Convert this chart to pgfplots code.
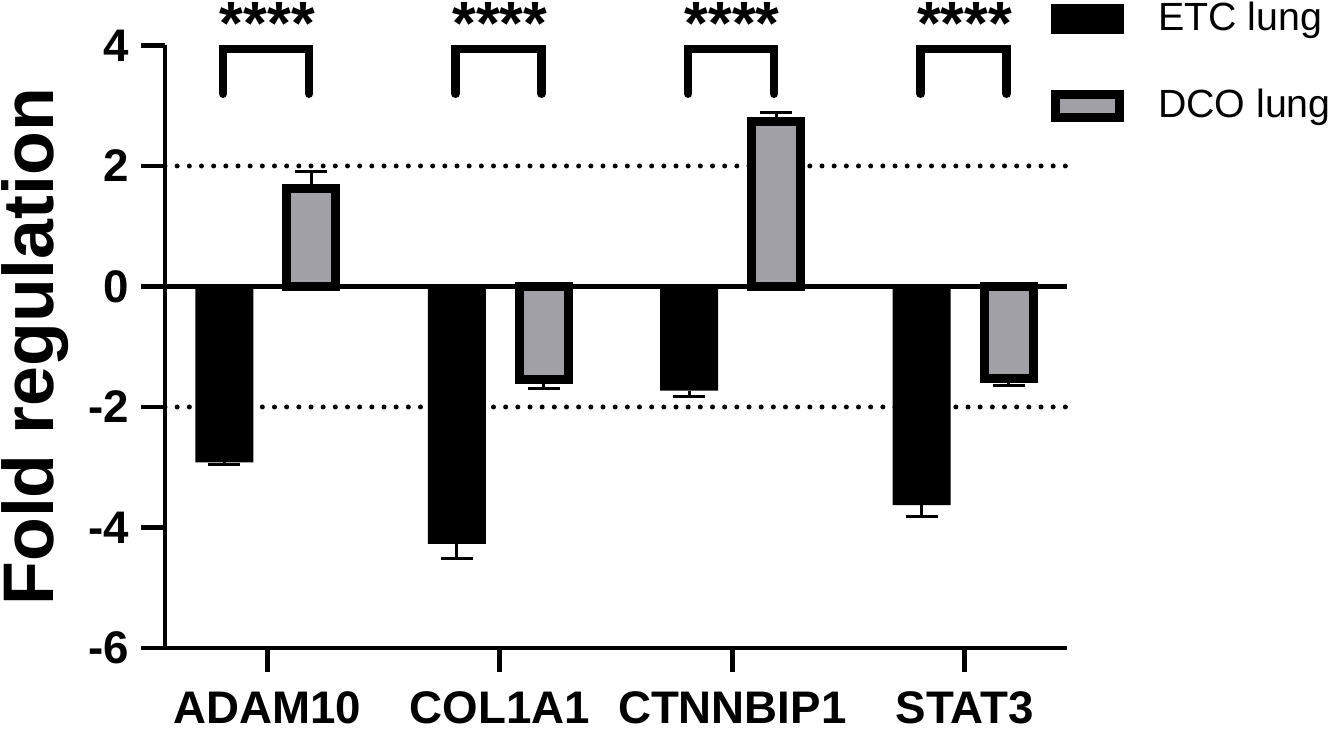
\documentclass[border=0pt]{standalone}
\usepackage{fontspec}
\setmainfont{Liberation Sans}
\usepackage{pgfplots}
\usepackage{pgfplotstable}
\pgfplotsset{compat=1.18}
\definecolor{dcogray}{RGB}{161,160,166}

\pgfplotstableread{
x y ep em
-0.185 -2.92 0 0.04
0.815 -4.27 0 0.24
1.815 -1.73 0 0.09
2.815 -3.63 0 0.19
}\etc
\pgfplotstableread{
x y ep em
0.189 1.625 0.275 0
1.189 -1.545 0 0.155
2.189 2.735 0.145 0
3.189 -1.525 0 0.125
}\dco

\begin{document}
\begin{tikzpicture}
\useasboundingbox (0,0) rectangle (400.5pt,218.7pt);
\begin{axis}[
  at={(49.5pt,24.3pt)}, anchor=south west,
  scale only axis,
  width=270.6pt, height=180.75pt,
  xmin=-0.44, xmax=3.44,
  ymin=-6, ymax=4,
  clip=false,
  axis x line*=bottom, axis y line*=left,
  axis line style={line width=1.4pt, -},
  tick style={line width=1.4pt, black},
  tick align=outside,
  major tick length=7.2pt,
  xtick={0,1,2,3},
  xticklabels={ADAM10,COL1A1,CTNNBIP1,STAT3},
  ytick={-6,-4,-2,0,2,4},
  yticklabels={-6,-4,-2,0,2,4},
  ticklabel style={font=\bfseries\fontsize{13.7}{15}\selectfont},
  xticklabel style={yshift=-2.4pt},
  ylabel={Fold regulation},
  ylabel style={font=\bfseries\fontsize{21.5}{24}\selectfont, at={(axis description cs:-0.144,0.5)}, anchor=center},
  legend style={draw=none, fill=none, at={(axis description cs:0.9815,1.0838)}, anchor=north west,
    font=\fontsize{11.8}{14}\selectfont, row sep=12pt, column sep=8.2pt, inner sep=0pt,
    nodes={inner sep=2pt}},
  legend cell align=left,
]
% reference lines
\addplot[forget plot, line width=1.5pt, dash pattern=on 0pt off 3.65pt, line cap=round] coordinates {(-0.44,2) (3.44,2)};
\addplot[forget plot, line width=1.5pt, dash pattern=on 0pt off 3.65pt, line cap=round] coordinates {(-0.44,-2) (3.44,-2)};
% bars
\addplot[ybar, bar shift=0pt, bar width=17.4pt, fill=black, draw=none,
  legend image code/.code={\fill[black] (0pt,-4.5pt) rectangle (21.9pt,4.5pt);},
  error bars/.cd, y dir=minus, y explicit,
  error bar style={line width=0.9pt, black},
  error mark options={line width=0.9pt, mark size=4.8pt, black, rotate=90},
  ] table[x=x, y=y, y error plus=ep, y error minus=em] {\etc};
\addlegendentry{ETC lung}
\addplot[ybar, bar shift=0pt, bar width=14.7pt, fill=dcogray, draw=black, line width=2.7pt,
  legend image code/.code={\draw[fill=dcogray, draw=black, line width=2.7pt] (1.35pt,-3.45pt) rectangle (20.55pt,3.45pt);},
  error bars/.cd, y dir=both, y explicit,
  error bar style={line width=0.9pt, black},
  error mark options={line width=0.9pt, mark size=4.8pt, black, rotate=90},
  ] table[x=x, y=y, y error plus=ep, y error minus=em] {\dco};
\addlegendentry{DCO lung}
% zero line
\addplot[forget plot, line width=1.4pt] coordinates {(-0.44,0) (3.44,0)};
% brackets
\addplot[forget plot, line width=2.6pt, line cap=round, line join=miter] coordinates {(-0.19,3.2) (-0.19,3.94) (0.18,3.94) (0.18,3.2)};
\addplot[forget plot, line width=2.6pt, line cap=round, line join=miter] coordinates {(0.81,3.2) (0.81,3.94) (1.18,3.94) (1.18,3.2)};
\addplot[forget plot, line width=2.6pt, line cap=round, line join=miter] coordinates {(1.81,3.2) (1.81,3.94) (2.18,3.94) (2.18,3.2)};
\addplot[forget plot, line width=2.6pt, line cap=round, line join=miter] coordinates {(2.81,3.2) (2.81,3.94) (3.18,3.94) (3.18,3.2)};
% significance stars
\node[font=\bfseries\fontsize{18.3}{20}\selectfont, inner sep=0pt] at (axis cs:0,4.36) {****};
\node[font=\bfseries\fontsize{18.3}{20}\selectfont, inner sep=0pt] at (axis cs:1,4.36) {****};
\node[font=\bfseries\fontsize{18.3}{20}\selectfont, inner sep=0pt] at (axis cs:2,4.36) {****};
\node[font=\bfseries\fontsize{18.3}{20}\selectfont, inner sep=0pt] at (axis cs:3,4.36) {****};
\end{axis}
\end{tikzpicture}
\end{document}
